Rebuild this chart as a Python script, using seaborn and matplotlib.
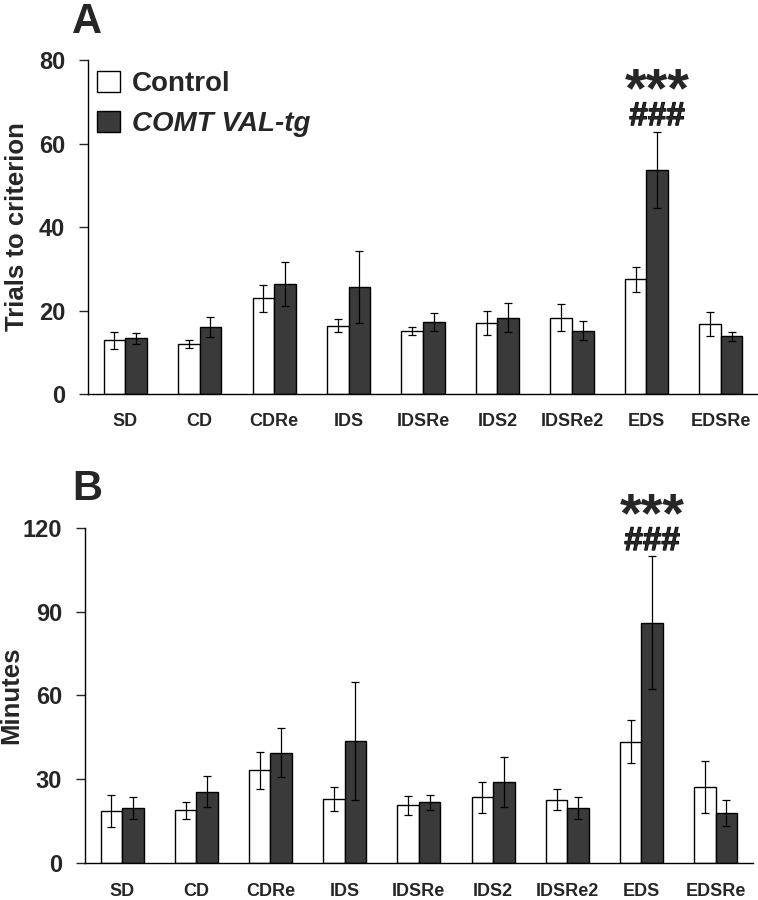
import pandas as pd
import numpy as np
import matplotlib
matplotlib.use('Agg')
import matplotlib.pyplot as plt
import matplotlib.patheffects as pe
from matplotlib.patches import Patch
import seaborn as sns

# Tasks of the set-shifting test
stages = ['SD', 'CD', 'CDRe', 'IDS', 'IDSRe', 'IDS2', 'IDSRe2', 'EDS', 'EDSRe']
groups = ['Control', 'COMT VAL-tg']

# Panel A: trials to criterion (mean and SEM)
trials_ctrl = [12.9, 12.0, 22.9, 16.4, 15.1, 17.0, 18.3, 27.5, 16.7]
trials_ctrl_err = [2.0, 1.0, 3.3, 1.5, 1.0, 2.8, 3.2, 3.0, 2.9]
trials_tg = [13.3, 16.0, 26.3, 25.6, 17.2, 18.3, 15.2, 53.7, 13.8]
trials_tg_err = [1.3, 2.4, 5.3, 8.7, 2.2, 3.5, 2.2, 9.1, 1.1]

# Panel B: minutes to criterion (mean and SEM)
minutes_ctrl = [18.7, 18.9, 33.2, 22.9, 20.8, 23.6, 22.7, 43.4, 27.2]
minutes_ctrl_err = [5.7, 3.1, 6.6, 4.2, 3.4, 5.6, 3.8, 7.7, 9.2]
minutes_tg = [19.8, 25.6, 39.5, 43.7, 21.8, 29.0, 19.7, 86.0, 17.9]
minutes_tg_err = [4.0, 5.6, 8.8, 21.2, 2.7, 9.0, 3.9, 23.7, 4.7]

sns.set_style('ticks')
plt.rcParams['font.family'] = ['Liberation Sans', 'DejaVu Sans']
plt.rcParams['font.weight'] = 'bold'

colors = ['white', '#3a3a3a']


def draw_panel(ax, ctrl, ctrl_err, tg, tg_err, ylim, yticks, ylabel, label_x,
               star_y, hash_y):
    df = pd.DataFrame({
        'stage': stages * 2,
        'group': [groups[0]] * len(stages) + [groups[1]] * len(stages),
        'value': ctrl + tg,
    })
    sns.barplot(data=df, x='stage', y='value', hue='group', order=stages,
                hue_order=groups, palette=colors, width=0.58, errorbar=None,
                edgecolor='black', linewidth=1.0, legend=False, ax=ax)

    # SEM error bars on top of each bar
    for cont, err in zip(ax.containers, [ctrl_err, tg_err]):
        xs = [b.get_x() + b.get_width() / 2 for b in cont]
        ys = [b.get_height() for b in cont]
        ax.errorbar(xs, ys, yerr=err, fmt='none', ecolor='black',
                    elinewidth=0.9, capsize=3.2, capthick=0.9, zorder=5)

    # significance marks above the EDS tg bar
    eds_bar = ax.containers[1][stages.index('EDS')]
    xm = eds_bar.get_x() + eds_bar.get_width() / 2
    ax.text(xm, star_y, '***', ha='center', va='baseline', fontsize=40,
            fontweight='bold')
    ax.text(xm, hash_y, '###', ha='center', va='baseline', fontsize=24,
            fontweight='bold',
            path_effects=[pe.withStroke(linewidth=0.8, foreground='black')])

    ax.set_xlim(-0.5, 8.5)
    ax.set_ylim(*ylim)
    ax.set_yticks(yticks)
    ax.set_xlabel('')
    ax.set_ylabel(ylabel, fontsize=18.5, fontweight='bold')
    ax.yaxis.set_label_coords(label_x, 0.5)
    ax.tick_params(axis='x', length=0, pad=14, labelsize=13)
    ax.tick_params(axis='y', length=6.5, width=1.0, pad=10, labelsize=17)
    for lab in ax.get_xticklabels() + ax.get_yticklabels():
        lab.set_fontweight('bold')
    sns.despine(ax=ax)
    for side in ['left', 'bottom']:
        ax.spines[side].set_linewidth(1.0)
        ax.spines[side].set_color('black')


fig = plt.figure(figsize=(7.58, 9.0), dpi=100)

ax_a = fig.add_axes([0.1161, 0.5622, 0.884, 0.3711])
draw_panel(ax_a, trials_ctrl, trials_ctrl_err, trials_tg, trials_tg_err,
           (0, 80), [0, 20, 40, 60, 80], 'Trials to criterion', -0.088,
           69.0, 64.4)

ax_b = fig.add_axes([0.1121, 0.0408, 0.881, 0.3729])
draw_panel(ax_b, minutes_ctrl, minutes_ctrl_err, minutes_tg, minutes_tg_err,
           (0, 120), [0, 30, 60, 90, 120], 'Minutes', -0.092,
           118.6, 112.0)

# legend in panel A
handles = [Patch(facecolor=c, edgecolor='black', linewidth=1.0) for c in colors]
leg = ax_a.legend(handles, groups, loc='upper left',
                  bbox_to_anchor=(0.014, 0.968), frameon=False, fontsize=20,
                  borderpad=0, borderaxespad=0, handlelength=0.8,
                  handleheight=0.8, handletextpad=0.45, labelspacing=0.5)
texts = leg.get_texts()
texts[0].set_fontweight('bold')
texts[1].set_fontweight('bold')
texts[1].set_fontstyle('italic')

fig.text(72 / 758, 1 - 33 / 900, 'A', fontsize=30, fontweight='bold',
         va='baseline', ha='left')
fig.text(72 / 758, 1 - 500 / 900, 'B', fontsize=30, fontweight='bold',
         va='baseline', ha='left')

plt.savefig('out.png', dpi=100)
plt.close()
